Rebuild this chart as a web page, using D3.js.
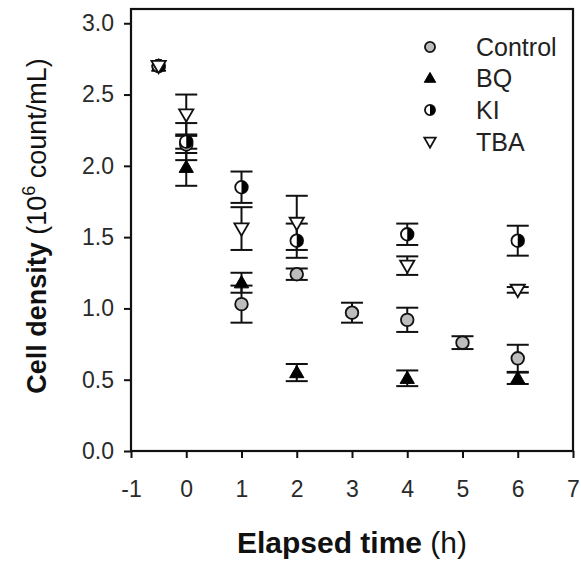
<!DOCTYPE html>
<html><head><meta charset="utf-8">
<script src="https://cdn.jsdelivr.net/npm/d3@7"></script>
<style>body{margin:0;background:#fff}svg{display:block}text{font-family:"Liberation Sans",Arial,sans-serif}</style>
</head><body><div id="chart"></div>
<script>
// Data
const seriesNames = ["Control", "BQ", "KI", "TBA"];
const controlTime = [-0.5, 0, 1, 2, 3, 4, 5, 6];
const controlMean = [2.70, 2.15, 1.03, 1.24, 0.97, 0.92, 0.76, 0.65];
const controlErr  = [0.00, 0.06, 0.13, 0.04, 0.07, 0.085, 0.045, 0.095];
const bqTime = [-0.5, 0, 1, 2, 4, 6];
const bqMean = [2.70, 1.99, 1.18, 0.55, 0.51, 0.51];
const bqErr  = [0.00, 0.13, 0.07, 0.06, 0.055, 0.04];
const kiTime = [-0.5, 0, 1, 2, 4, 6];
const kiMean = [2.70, 2.17, 1.85, 1.475, 1.52, 1.475];
const kiErr  = [0.00, 0.13, 0.11, 0.12, 0.075, 0.105];
const tbaTime = [-0.5, 0, 1, 2, 4, 6];
const tbaMean = [2.70, 2.36, 1.56, 1.60, 1.30, 1.13];
const tbaErr  = [0.00, 0.14, 0.15, 0.19, 0.065, 0.02];
const xTicks = [-1, 0, 1, 2, 3, 4, 5, 6, 7];
const yTicks = [0, 0.5, 1.0, 1.5, 2.0, 2.5, 3.0];

const W = 581, H = 565;
const m = {left: 131, right: 8, top: 9, bottom: 114};
const svg = d3.select("#chart").append("svg").attr("width", W).attr("height", H);
const x = d3.scaleLinear().domain([-1, 7]).range([m.left, W - m.right]);
const y = d3.scaleLinear().domain([0, 3.1]).range([H - m.bottom, m.top]);

const series = [
  {name: "Control", t: controlTime, v: controlMean, e: controlErr},
  {name: "BQ", t: bqTime, v: bqMean, e: bqErr},
  {name: "KI", t: kiTime, v: kiMean, e: kiErr},
  {name: "TBA", t: tbaTime, v: tbaMean, e: tbaErr}
];

// Axes
const xAxis = svg.append("g").attr("transform", `translate(0,${y(0)})`)
  .call(d3.axisBottom(x).tickValues(xTicks).tickFormat(d => String(d)).tickSize(7).tickPadding(21));
const yAxis = svg.append("g").attr("transform", `translate(${x(-1)},0)`)
  .call(d3.axisLeft(y).tickValues(yTicks).tickFormat(d => d.toFixed(1)).tickSize(7).tickPadding(10));
[xAxis, yAxis].forEach(g => {
  g.select(".domain").remove();
  g.selectAll(".tick line").attr("stroke", "#111").attr("stroke-width", 2);
  g.selectAll(".tick text").attr("font-size", 23).attr("fill", "#2a2a2a")
    .style("font-family", '"Liberation Sans",Arial,sans-serif');
});
xAxis.selectAll(".tick text").attr("dy", "0.8em");

// Frame
svg.append("rect").attr("x", x(-1)).attr("y", y(3.1))
  .attr("width", x(7) - x(-1)).attr("height", y(0) - y(3.1))
  .attr("fill", "none").attr("stroke", "#111").attr("stroke-width", 2.2);

// Symbols
function drawMarker(g, name, cx, cy, s) {
  const k = s || 1;
  if (name === "Control") {
    g.append("circle").attr("cx", cx).attr("cy", cy).attr("r", 6.3 * k)
      .attr("fill", "#bdbdbd").attr("stroke", "#111").attr("stroke-width", 1.8);
  } else if (name === "BQ") {
    g.append("path").attr("d", d3.symbol(d3.symbolTriangle, 88 * k * k)())
      .attr("transform", `translate(${cx},${cy + 1})`)
      .attr("fill", "#000").attr("stroke", "#000").attr("stroke-width", 1);
  } else if (name === "KI") {
    const r = 6.3 * k;
    g.append("circle").attr("cx", cx).attr("cy", cy).attr("r", r)
      .attr("fill", "#fff").attr("stroke", "#111").attr("stroke-width", 1.8);
    g.append("path").attr("d", `M${cx},${cy - r}A${r},${r} 0 0 1 ${cx},${cy + r}Z`).attr("fill", "#000");
  } else {
    g.append("path").attr("d", d3.symbol(d3.symbolTriangle, 88 * k * k)())
      .attr("transform", `translate(${cx},${cy - 1}) rotate(180)`)
      .attr("fill", "#fff").attr("stroke", "#111").attr("stroke-width", 1.8);
  }
}

// Error bars
const eg = svg.append("g").attr("stroke", "#111").attr("stroke-width", 2);
series.forEach(s => {
  s.t.forEach((t, i) => {
    if (s.e[i] <= 0) return;
    const cx = x(t), y1 = y(s.v[i] + s.e[i]), y2 = y(s.v[i] - s.e[i]);
    eg.append("line").attr("x1", cx).attr("x2", cx).attr("y1", y1).attr("y2", y2);
    eg.append("line").attr("x1", cx - 11).attr("x2", cx + 11).attr("y1", y1).attr("y2", y1);
    eg.append("line").attr("x1", cx - 11).attr("x2", cx + 11).attr("y1", y2).attr("y2", y2);
  });
});

// Markers
const mg = svg.append("g");
series.forEach(s => {
  s.t.forEach((t, i) => drawMarker(mg, s.name, x(t), y(s.v[i])));
});

// Legend
const lg = svg.append("g");
const legY = [47, 78, 110, 142];
seriesNames.forEach((n, i) => {
  drawMarker(lg, n, 430, legY[i], 0.8);
  lg.append("text").attr("x", 476).attr("y", legY[i] + 9).attr("font-size", 25).attr("fill", "#222").text(n);
});

// Axis titles
const xt = svg.append("text").attr("x", (x(-1) + x(7)) / 2).attr("y", 553)
  .attr("text-anchor", "middle").attr("font-size", 30).attr("fill", "#111");
xt.append("tspan").attr("font-weight", "bold").text("Elapsed time");
xt.append("tspan").text(" (h)");

const yt = svg.append("text").attr("transform", `translate(46,${226}) rotate(-90)`)
  .attr("text-anchor", "middle").attr("font-size", 27).attr("fill", "#111");
yt.append("tspan").attr("font-weight", "bold").text("Cell density");
yt.append("tspan").text(" (10");
yt.append("tspan").attr("font-size", 18).attr("dy", -11).text("6");
yt.append("tspan").attr("dy", 11).text(" count/mL)");
</script></body></html>
